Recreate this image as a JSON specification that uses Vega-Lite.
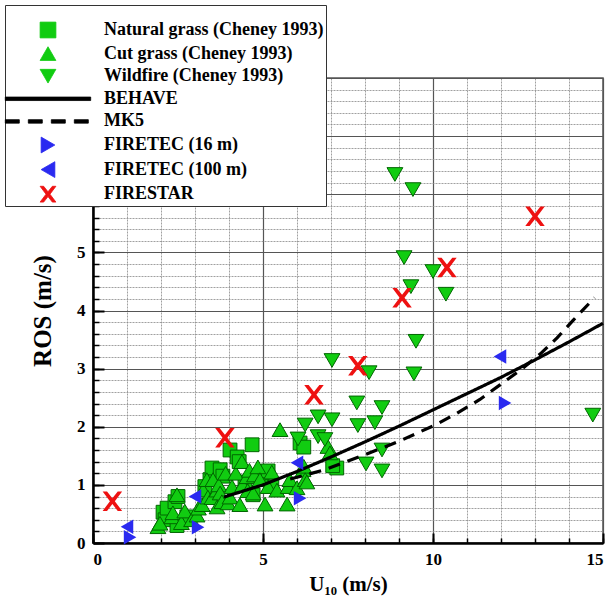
{
  "$schema": "https://vega.github.io/schema/vega-lite/v6.json",
  "width": 510,
  "height": 465,
  "autosize": {"type": "none"},
  "padding": {"left": 93, "top": 78, "right": 6, "bottom": 56},
  "background": "white",
  "config": {
    "view": {"stroke": "#555", "strokeWidth": 1.5},
    "axis": {"labelFont": "Liberation Serif", "titleFont": "Liberation Serif", "labelColor": "black", "titleColor": "black"}
  },
  "data": {"values": [
    {"series": "Natural grass (Cheney 1993)", "U10": 2.06, "ROS": 0.53},
    {"series": "Natural grass (Cheney 1993)", "U10": 2.12, "ROS": 0.40},
    {"series": "Natural grass (Cheney 1993)", "U10": 2.18, "ROS": 0.60},
    {"series": "Natural grass (Cheney 1993)", "U10": 2.41, "ROS": 0.71},
    {"series": "Natural grass (Cheney 1993)", "U10": 2.50, "ROS": 0.80},
    {"series": "Natural grass (Cheney 1993)", "U10": 2.47, "ROS": 0.30},
    {"series": "Natural grass (Cheney 1993)", "U10": 2.76, "ROS": 0.45},
    {"series": "Natural grass (Cheney 1993)", "U10": 3.29, "ROS": 0.97},
    {"series": "Natural grass (Cheney 1993)", "U10": 3.44, "ROS": 1.09},
    {"series": "Natural grass (Cheney 1993)", "U10": 3.50, "ROS": 1.29},
    {"series": "Natural grass (Cheney 1993)", "U10": 3.74, "ROS": 1.26},
    {"series": "Natural grass (Cheney 1993)", "U10": 3.82, "ROS": 1.15},
    {"series": "Natural grass (Cheney 1993)", "U10": 4.03, "ROS": 1.60},
    {"series": "Natural grass (Cheney 1993)", "U10": 4.24, "ROS": 1.48},
    {"series": "Natural grass (Cheney 1993)", "U10": 4.30, "ROS": 1.40},
    {"series": "Natural grass (Cheney 1993)", "U10": 4.47, "ROS": 1.05},
    {"series": "Natural grass (Cheney 1993)", "U10": 4.68, "ROS": 1.69},
    {"series": "Natural grass (Cheney 1993)", "U10": 4.71, "ROS": 0.83},
    {"series": "Natural grass (Cheney 1993)", "U10": 4.97, "ROS": 1.14},
    {"series": "Natural grass (Cheney 1993)", "U10": 5.15, "ROS": 1.24},
    {"series": "Natural grass (Cheney 1993)", "U10": 5.26, "ROS": 0.97},
    {"series": "Natural grass (Cheney 1993)", "U10": 6.09, "ROS": 1.72},
    {"series": "Natural grass (Cheney 1993)", "U10": 6.20, "ROS": 1.65},
    {"series": "Natural grass (Cheney 1993)", "U10": 7.17, "ROS": 1.29},
    {"series": "Natural grass (Cheney 1993)", "U10": 7.05, "ROS": 1.33},
    {"series": "Cut grass (Cheney 1993)", "U10": 1.91, "ROS": 0.28},
    {"series": "Cut grass (Cheney 1993)", "U10": 1.97, "ROS": 0.34},
    {"series": "Cut grass (Cheney 1993)", "U10": 2.32, "ROS": 0.45},
    {"series": "Cut grass (Cheney 1993)", "U10": 2.35, "ROS": 0.52},
    {"series": "Cut grass (Cheney 1993)", "U10": 2.47, "ROS": 0.83},
    {"series": "Cut grass (Cheney 1993)", "U10": 2.60, "ROS": 0.35},
    {"series": "Cut grass (Cheney 1993)", "U10": 2.70, "ROS": 0.55},
    {"series": "Cut grass (Cheney 1993)", "U10": 2.90, "ROS": 0.40},
    {"series": "Cut grass (Cheney 1993)", "U10": 3.06, "ROS": 0.48},
    {"series": "Cut grass (Cheney 1993)", "U10": 3.10, "ROS": 0.60},
    {"series": "Cut grass (Cheney 1993)", "U10": 3.21, "ROS": 0.66},
    {"series": "Cut grass (Cheney 1993)", "U10": 3.24, "ROS": 0.91},
    {"series": "Cut grass (Cheney 1993)", "U10": 3.35, "ROS": 1.09},
    {"series": "Cut grass (Cheney 1993)", "U10": 3.38, "ROS": 0.79},
    {"series": "Cut grass (Cheney 1993)", "U10": 3.50, "ROS": 0.78},
    {"series": "Cut grass (Cheney 1993)", "U10": 3.53, "ROS": 1.09},
    {"series": "Cut grass (Cheney 1993)", "U10": 3.65, "ROS": 0.91},
    {"series": "Cut grass (Cheney 1993)", "U10": 3.65, "ROS": 0.62},
    {"series": "Cut grass (Cheney 1993)", "U10": 3.70, "ROS": 1.00},
    {"series": "Cut grass (Cheney 1993)", "U10": 3.74, "ROS": 0.86},
    {"series": "Cut grass (Cheney 1993)", "U10": 3.79, "ROS": 0.71},
    {"series": "Cut grass (Cheney 1993)", "U10": 3.90, "ROS": 1.20},
    {"series": "Cut grass (Cheney 1993)", "U10": 3.97, "ROS": 0.69},
    {"series": "Cut grass (Cheney 1993)", "U10": 4.03, "ROS": 0.79},
    {"series": "Cut grass (Cheney 1993)", "U10": 4.09, "ROS": 0.97},
    {"series": "Cut grass (Cheney 1993)", "U10": 4.20, "ROS": 1.20},
    {"series": "Cut grass (Cheney 1993)", "U10": 4.32, "ROS": 0.66},
    {"series": "Cut grass (Cheney 1993)", "U10": 4.38, "ROS": 1.40},
    {"series": "Cut grass (Cheney 1993)", "U10": 4.40, "ROS": 1.00},
    {"series": "Cut grass (Cheney 1993)", "U10": 4.53, "ROS": 1.14},
    {"series": "Cut grass (Cheney 1993)", "U10": 4.55, "ROS": 0.90},
    {"series": "Cut grass (Cheney 1993)", "U10": 4.60, "ROS": 1.25},
    {"series": "Cut grass (Cheney 1993)", "U10": 4.71, "ROS": 0.86},
    {"series": "Cut grass (Cheney 1993)", "U10": 4.75, "ROS": 1.17},
    {"series": "Cut grass (Cheney 1993)", "U10": 4.85, "ROS": 1.31},
    {"series": "Cut grass (Cheney 1993)", "U10": 4.91, "ROS": 1.09},
    {"series": "Cut grass (Cheney 1993)", "U10": 5.06, "ROS": 0.67},
    {"series": "Cut grass (Cheney 1993)", "U10": 5.15, "ROS": 0.97},
    {"series": "Cut grass (Cheney 1993)", "U10": 5.26, "ROS": 1.22},
    {"series": "Cut grass (Cheney 1993)", "U10": 5.41, "ROS": 0.91},
    {"series": "Cut grass (Cheney 1993)", "U10": 5.50, "ROS": 1.95},
    {"series": "Cut grass (Cheney 1993)", "U10": 5.71, "ROS": 0.67},
    {"series": "Cut grass (Cheney 1993)", "U10": 5.74, "ROS": 0.97},
    {"series": "Cut grass (Cheney 1993)", "U10": 5.79, "ROS": 1.09},
    {"series": "Cut grass (Cheney 1993)", "U10": 6.00, "ROS": 0.95},
    {"series": "Cut grass (Cheney 1993)", "U10": 6.18, "ROS": 1.26},
    {"series": "Cut grass (Cheney 1993)", "U10": 6.20, "ROS": 1.32},
    {"series": "Cut grass (Cheney 1993)", "U10": 6.24, "ROS": 1.09},
    {"series": "Cut grass (Cheney 1993)", "U10": 6.29, "ROS": 1.05},
    {"series": "Cut grass (Cheney 1993)", "U10": 6.91, "ROS": 1.66},
    {"series": "Cut grass (Cheney 1993)", "U10": 6.97, "ROS": 1.55},
    {"series": "Wildfire (Cheney 1993)", "U10": 8.88, "ROS": 6.34},
    {"series": "Wildfire (Cheney 1993)", "U10": 9.41, "ROS": 6.08},
    {"series": "Wildfire (Cheney 1993)", "U10": 9.15, "ROS": 4.91},
    {"series": "Wildfire (Cheney 1993)", "U10": 10.00, "ROS": 4.67},
    {"series": "Wildfire (Cheney 1993)", "U10": 9.35, "ROS": 4.41},
    {"series": "Wildfire (Cheney 1993)", "U10": 10.38, "ROS": 4.28},
    {"series": "Wildfire (Cheney 1993)", "U10": 9.50, "ROS": 3.47},
    {"series": "Wildfire (Cheney 1993)", "U10": 7.03, "ROS": 3.14},
    {"series": "Wildfire (Cheney 1993)", "U10": 8.12, "ROS": 2.93},
    {"series": "Wildfire (Cheney 1993)", "U10": 9.44, "ROS": 2.91},
    {"series": "Wildfire (Cheney 1993)", "U10": 14.70, "ROS": 2.20},
    {"series": "Wildfire (Cheney 1993)", "U10": 7.76, "ROS": 2.41},
    {"series": "Wildfire (Cheney 1993)", "U10": 8.50, "ROS": 2.33},
    {"series": "Wildfire (Cheney 1993)", "U10": 6.62, "ROS": 2.17},
    {"series": "Wildfire (Cheney 1993)", "U10": 7.03, "ROS": 2.12},
    {"series": "Wildfire (Cheney 1993)", "U10": 7.79, "ROS": 2.02},
    {"series": "Wildfire (Cheney 1993)", "U10": 8.29, "ROS": 2.07},
    {"series": "Wildfire (Cheney 1993)", "U10": 6.24, "ROS": 2.03},
    {"series": "Wildfire (Cheney 1993)", "U10": 6.03, "ROS": 1.79},
    {"series": "Wildfire (Cheney 1993)", "U10": 6.62, "ROS": 1.83},
    {"series": "Wildfire (Cheney 1993)", "U10": 6.82, "ROS": 1.78},
    {"series": "Wildfire (Cheney 1993)", "U10": 8.50, "ROS": 1.60},
    {"series": "Wildfire (Cheney 1993)", "U10": 8.03, "ROS": 1.36},
    {"series": "Wildfire (Cheney 1993)", "U10": 8.50, "ROS": 1.24},
    {"series": "BEHAVE", "U10": 3.85, "ROS": 0.79},
    {"series": "BEHAVE", "U10": 5.0, "ROS": 1.00},
    {"series": "BEHAVE", "U10": 6.0, "ROS": 1.23},
    {"series": "BEHAVE", "U10": 7.0, "ROS": 1.48},
    {"series": "BEHAVE", "U10": 8.0, "ROS": 1.74},
    {"series": "BEHAVE", "U10": 9.0, "ROS": 2.01},
    {"series": "BEHAVE", "U10": 10.0, "ROS": 2.29},
    {"series": "BEHAVE", "U10": 11.0, "ROS": 2.57},
    {"series": "BEHAVE", "U10": 12.0, "ROS": 2.85},
    {"series": "BEHAVE", "U10": 13.0, "ROS": 3.15},
    {"series": "BEHAVE", "U10": 14.0, "ROS": 3.46},
    {"series": "BEHAVE", "U10": 15.0, "ROS": 3.78},
    {"series": "MK5", "U10": 5.8, "ROS": 1.10},
    {"series": "MK5", "U10": 6.76, "ROS": 1.25},
    {"series": "MK5", "U10": 8.09, "ROS": 1.54},
    {"series": "MK5", "U10": 9.0, "ROS": 1.75},
    {"series": "MK5", "U10": 10.1, "ROS": 2.04},
    {"series": "MK5", "U10": 10.7, "ROS": 2.23},
    {"series": "MK5", "U10": 11.38, "ROS": 2.47},
    {"series": "MK5", "U10": 11.97, "ROS": 2.72},
    {"series": "MK5", "U10": 12.56, "ROS": 2.97},
    {"series": "MK5", "U10": 13.15, "ROS": 3.25},
    {"series": "MK5", "U10": 13.65, "ROS": 3.53},
    {"series": "MK5", "U10": 14.12, "ROS": 3.83},
    {"series": "MK5", "U10": 14.75, "ROS": 4.22},
    {"series": "FIRETEC (16 m)", "U10": 1.09, "ROS": 0.10},
    {"series": "FIRETEC (16 m)", "U10": 3.09, "ROS": 0.27},
    {"series": "FIRETEC (16 m)", "U10": 6.09, "ROS": 0.77},
    {"series": "FIRETEC (16 m)", "U10": 12.12, "ROS": 2.41},
    {"series": "FIRETEC (100 m)", "U10": 1.0, "ROS": 0.28},
    {"series": "FIRETEC (100 m)", "U10": 3.0, "ROS": 0.80},
    {"series": "FIRETEC (100 m)", "U10": 6.0, "ROS": 1.38},
    {"series": "FIRETEC (100 m)", "U10": 11.97, "ROS": 3.21},
    {"series": "FIRESTAR", "U10": 0.57, "ROS": 0.72},
    {"series": "FIRESTAR", "U10": 3.88, "ROS": 1.81},
    {"series": "FIRESTAR", "U10": 6.50, "ROS": 2.55},
    {"series": "FIRESTAR", "U10": 7.79, "ROS": 3.05},
    {"series": "FIRESTAR", "U10": 9.09, "ROS": 4.22},
    {"series": "FIRESTAR", "U10": 10.41, "ROS": 4.74},
    {"series": "FIRESTAR", "U10": 13.0, "ROS": 5.62}
  ]},
  "layer": [
    {
      "transform": [{"filter": {"field": "series", "oneOf": ["Natural grass (Cheney 1993)"]}}],
      "mark": {"type": "point", "filled": true, "stroke": "#006600", "strokeWidth": 1, "opacity": 1, "size": 190},
      "encoding": {
        "x": {"field": "U10", "type": "quantitative", "scale": {"domain": [0, 15], "nice": false, "zero": false},
              "axis": {"orient": "bottom", "values": [0,1,2,3,4,5,6,7,8,9,10,11,12,13,14,15], "grid": true, "gridColor": "#888", "gridWidth": 0.8, "gridDash": [2, 1], "domain": false, "labels": false, "ticks": true, "tickSize": -5, "tickColor": "black", "tickWidth": 1.5, "title": null}},
        "y": {"field": "ROS", "type": "quantitative", "scale": {"domain": [0, 8], "nice": false, "zero": false},
              "axis": {"orient": "left", "values": [0,0.2,0.4,0.6,0.8,1,1.2,1.4,1.6,1.8,2,2.2,2.4,2.6,2.8,3,3.2,3.4,3.6,3.8,4,4.2,4.4,4.6,4.8,5,5.2,5.4,5.6,5.8,6,6.2,6.4,6.6,6.8,7,7.2,7.4,7.6,7.8,8], "grid": true, "gridColor": "#888", "gridWidth": 0.8, "gridDash": [2, 1], "domain": false, "labels": false, "ticks": true, "tickSize": -6, "tickColor": "black", "tickWidth": 1.5, "title": null}},
        "color": {"field": "series", "type": "nominal",
          "scale": {"domain": ["Natural grass (Cheney 1993)", "Cut grass (Cheney 1993)", "Wildfire (Cheney 1993)", "BEHAVE", "MK5", "FIRETEC (16 m)", "FIRETEC (100 m)", "FIRESTAR"],
                    "range": ["#11cc11", "#11cc11", "#11cc11", "#000000", "#000000", "#2a2af0", "#2a2af0", "#ee1111"]},
          "legend": {
            "orient": "none", "legendX": -88, "legendY": -73, "title": " ", "titleFontSize": 6, "titlePadding": 8,
            "fillColor": "white", "strokeColor": "#333", "padding": 2,
            "labelFont": "Liberation Serif", "labelFontWeight": "bold", "labelFontSize": 18, "labelColor": "black",
            "labelOffset": 47, "labelLimit": 400, "rowPadding": 4.6, "symbolSize": 250, "symbolOffset": 32,
            "symbolStrokeColor": "#006600", "symbolStrokeWidth": 0.8
          }},
        "shape": {"field": "series", "type": "nominal",
          "scale": {"domain": ["Natural grass (Cheney 1993)", "Cut grass (Cheney 1993)", "Wildfire (Cheney 1993)", "BEHAVE", "MK5", "FIRETEC (16 m)", "FIRETEC (100 m)", "FIRESTAR"],
                    "range": ["square", "triangle-up", "triangle-down", "M-5.4,-0.22H5.4V0.22H-5.4Z", "M-5.4,-0.22H-3.63V0.22H-5.4ZM-2.49,-0.22H-0.72V0.22H-2.49ZM0.42,-0.22H2.19V0.22H0.42ZM3.33,-0.22H5.1V0.22H3.33Z", "triangle-right", "triangle-left", "M-1,-1H-0.55L0,-0.3L0.55,-1H1L0.25,0L1,1H0.55L0,0.3L-0.55,1H-1L-0.25,0Z"]},
          "legend": {
            "orient": "none", "legendX": -88, "legendY": -73, "title": " ", "titleFontSize": 6, "titlePadding": 8,
            "fillColor": "white", "strokeColor": "#333", "padding": 2,
            "labelFont": "Liberation Serif", "labelFontWeight": "bold", "labelFontSize": 18, "labelColor": "black",
            "labelOffset": 47, "labelLimit": 400, "rowPadding": 4.6, "symbolSize": 250, "symbolOffset": 32,
            "symbolStrokeColor": "#006600", "symbolStrokeWidth": 0.8
          }}
      }
    },
    {
      "transform": [{"filter": {"field": "series", "oneOf": ["Cut grass (Cheney 1993)", "Wildfire (Cheney 1993)"]}}],
      "mark": {"type": "point", "filled": true, "stroke": "#006600", "strokeWidth": 1, "opacity": 1, "size": 250},
      "encoding": {
        "x": {"field": "U10", "type": "quantitative", "axis": null},
        "y": {"field": "ROS", "type": "quantitative", "axis": null},
        "color": {"field": "series", "type": "nominal"},
        "shape": {"field": "series", "type": "nominal"}
      }
    },
    {
      "transform": [{"filter": {"field": "series", "oneOf": ["BEHAVE", "MK5"]}}],
      "mark": {"type": "line", "strokeWidth": 3.2},
      "encoding": {
        "x": {"field": "U10", "type": "quantitative",
              "axis": {"orient": "bottom", "values": [0, 5, 10, 15], "format": "d", "grid": true, "gridColor": "#555", "gridWidth": 1.2, "domain": true, "domainColor": "black", "domainWidth": 2.5, "ticks": true, "tickSize": -10, "tickColor": "black", "tickWidth": 2, "labelPadding": 18, "labelFontSize": 17, "labelFontWeight": "bold", "title": "U₁₀ (m/s)", "titleFontSize": 21, "titleFontWeight": "bold", "titlePadding": 6}},
        "y": {"field": "ROS", "type": "quantitative",
              "axis": {"orient": "left", "values": [0, 1, 2, 3, 4, 5, 6, 7, 8], "format": "d", "grid": true, "gridColor": "#555", "gridWidth": 1.2, "domain": true, "domainColor": "black", "domainWidth": 2.5, "ticks": true, "tickSize": -11, "tickColor": "black", "tickWidth": 2, "labelPadding": 19, "labelFontSize": 17, "labelFontWeight": "bold", "title": "ROS (m/s)", "titleFontSize": 25, "titleFontWeight": "bold", "titlePadding": 21}},
        "color": {"field": "series", "type": "nominal"},
        "strokeDash": {"field": "series", "type": "nominal", "scale": {"domain": ["BEHAVE", "MK5"], "range": [[1, 0], [12, 8]]}, "legend": null}
      }
    },
    {
      "transform": [{"filter": {"field": "series", "oneOf": ["FIRETEC (16 m)", "FIRETEC (100 m)"]}}],
      "mark": {"type": "point", "filled": true, "opacity": 1, "size": 210},
      "encoding": {
        "x": {"field": "U10", "type": "quantitative", "axis": null},
        "y": {"field": "ROS", "type": "quantitative", "axis": null},
        "color": {"field": "series", "type": "nominal"},
        "shape": {"field": "series", "type": "nominal"}
      }
    },
    {
      "transform": [{"filter": {"field": "series", "oneOf": ["FIRESTAR"]}}],
      "mark": {"type": "point", "filled": true, "opacity": 1, "size": 380},
      "encoding": {
        "x": {"field": "U10", "type": "quantitative", "axis": null},
        "y": {"field": "ROS", "type": "quantitative", "axis": null},
        "color": {"field": "series", "type": "nominal"},
        "shape": {"field": "series", "type": "nominal"}
      }
    }
  ],
  "resolve": {"axis": {"x": "independent", "y": "independent"}}
}
